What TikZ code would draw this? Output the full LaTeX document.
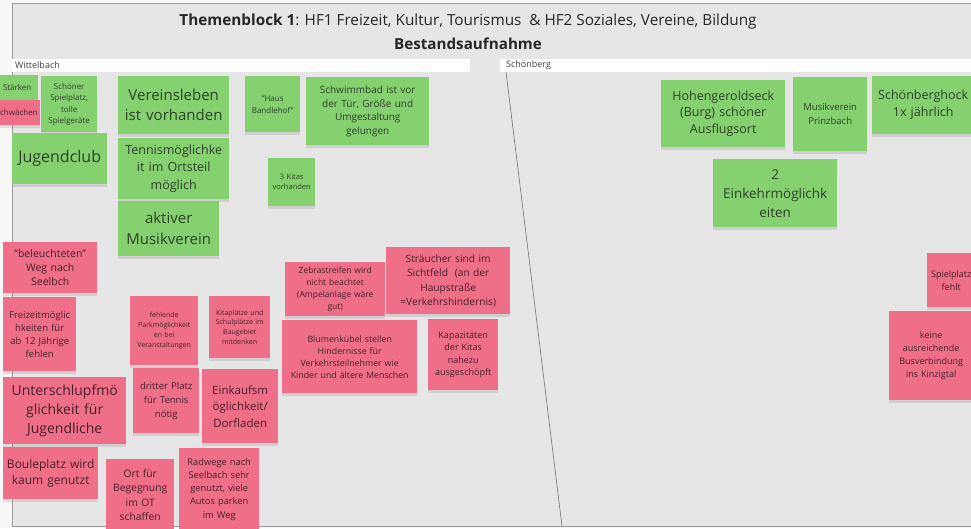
\documentclass[tikz,border=0pt]{standalone}
\usepackage{fontspec}
\setmainfont{Open Sans}
\usepackage{tikz}
\usetikzlibrary{shadows}
\definecolor{notegreen}{HTML}{86D16F}
\definecolor{notered}{HTML}{F06F88}
\definecolor{greentext}{HTML}{2E3F2A}
\definecolor{redtext}{HTML}{45202A}
\definecolor{boardgray}{HTML}{E6E6E6}
\definecolor{boardline}{HTML}{9A9A9A}
\newcommand{\fsz}[2]{\fontsize{#1}{#2}\selectfont}

\begin{document}
\begin{tikzpicture}[x=1pt,y=-1pt,
    note/.style={rectangle,inner xsep=0pt,inner ysep=0pt,align=center,anchor=north west,
      drop shadow={shadow xshift=0pt,shadow yshift=-2.5pt,opacity=.22}},
    sz/.style n args={2}{minimum width=#1pt,text width=#1pt,minimum height=#2pt},
    good/.style={note,fill=notegreen,text=greentext},
    bad/.style={note,fill=notered,text=redtext}]
  \useasboundingbox (0,0) rectangle (971,528);
  \clip (0,0) rectangle (971,528);
  \fill[white!97!black] (0,0) rectangle (971,528);
  \draw[boardline,fill=boardgray,line width=0.8pt] (12,3) rectangle (990,526);
  % header
  \node[font=\fsz{15.3}{18},text=black!85] (titel) at (468,22)
    {\textbf{Themenblock 1}: HF1 Freizeit, Kultur, Tourismus\ \ \& HF2 Soziales, Vereine, Bildung};
  \node[font=\bfseries\fsz{15.2}{18},text=black!85] (bestand) at (468,44) {Bestandsaufnahme};
  \foreach \nm/\xa/\xb/\xt/\ort in {witt/12/470/15/Wittelbach, schoen/500/975/506/Schönberg}{
    \fill[white] (\xa,59) rectangle (\xb,72);
    \node[anchor=west,inner sep=0pt,font=\fsz{9}{11},text=black!75] (\nm) at (\xt,65.5) {\ort};
  }
  \coordinate (divtop) at (506,72);
  \coordinate (divbot) at (562,526);
  \draw[black!55,line width=0.6pt] (divtop) -- (divbot);
  % Wittelbach, Staerken
  \node[good,sz={42}{25},font=\fsz{8}{11}] (staerken) at (-4,75) {Stärken};
  \node[bad,sz={47}{25},font=\fsz{8}{11}] (schwaechen) at (-7,100) {Schwächen};
  \node[good,sz={56}{56},font=\fsz{8}{11.5}] (spielplatz) at (41,76) {Schöner\\Spielplatz,\\tolle\\Spielgeräte};
  \node[good,sz={111}{58},font=\fsz{15}{20}] (vereinsleben) at (118,76) {Vereinsleben\\ist vorhanden};
  \node[good,sz={55}{56},font=\fsz{8}{12}] (bandlehof) at (245,76) {"Haus\\Bandlehof"};
  \node[good,sz={123}{68},font=\fsz{10}{13.5}] (schwimmbad) at (306,77) {Schwimmbad ist vor\\der Tür, Größe und\\Umgestaltung\\gelungen};
  \node[good,sz={95}{51},font=\fsz{16}{21}] (jugendclub) at (12,133) {Jugendclub};
  \node[good,sz={111}{61},font=\fsz{12.5}{17.5}] (tennis) at (118,138) {Tennismöglichke\\it im Ortsteil\\möglich};
  \node[good,sz={101}{55},font=\fsz{15}{21}] (musikverein) at (118,201) {aktiver\\Musikverein};
  \node[good,sz={47}{48},font=\fsz{7.5}{10}] (kitas) at (268,158) {3 Kitas\\vorhanden};
  % Wittelbach, Schwaechen
  \node[bad,sz={94}{51},font=\fsz{10.5}{14}] (beleuchtet) at (3,242) {"beleuchteten"\\Weg nach\\Seelbch};
  \node[bad,sz={73}{74},font=\fsz{9.5}{13}] (freizeit) at (3,297) {Freizeitmöglic\\hkeiten für\\ab 12 Jährige\\fehlen};
  \node[bad,sz={68}{69},font=\fsz{7}{10.3}] (parken) at (130,296) {fehlende\\Parkmöglichkeit\\en bei\\Veranstaltungen};
  \node[bad,sz={61}{62},font=\fsz{7}{9.8}] (kitaplatz) at (209,296) {Kitaplätze und\\Schulplätze im\\Baugebiet\\mitdenken};
  \node[bad,sz={100}{54},font=\fsz{8.5}{12}] (zebra) at (285,262) {Zebrastreifen wird\\nicht beachtet\\(Ampelanlage wäre\\gut)};
  \node[bad,sz={124}{67},font=\fsz{10.2}{14.5}] (straeucher) at (386,247) {Sträucher sind im\\Sichtfeld\ \ (an der\\Haupstraße\\=Verkehrshindernis)};
  \node[bad,sz={135}{73},font=\fsz{8.8}{12}] (blumen) at (282,320) {Blumenkübel stellen\\Hindernisse für\\Verkehrsteilnehmer wie\\Kinder und ältere Menschen};
  \node[bad,sz={70}{71},font=\fsz{9}{12.3}] (kapazitaet) at (428,319) {Kapazitäten\\der Kitas\\nahezu\\ausgeschöpft};
  \node[bad,sz={123}{67},font=\fsz{14}{18.7}] (unterschlupf) at (3,377) {Unterschlupfmö\\glichkeit für\\Jugendliche};
  \node[bad,sz={66}{65},font=\fsz{9.5}{14}] (tennisplatz) at (133,368) {dritter Platz\\für Tennis\\nötig};
  \node[bad,sz={76}{74},font=\fsz{11.5}{16.5}] (dorfladen) at (202,369) {Einkaufsm\\öglichkeit/\\Dorfladen};
  \node[bad,sz={95}{52},font=\fsz{12}{15.5}] (boule) at (3,447) {Bouleplatz wird\\kaum genutzt};
  \node[bad,sz={68}{72},font=\fsz{10.3}{14.6}] (begegnung) at (106,459) {Ort für\\Begegnung\\im OT\\schaffen};
  \node[bad,sz={80}{82},font=\fsz{9.3}{13.2}] (radwege) at (179,448) {Radwege nach\\Seelbach sehr\\genutzt, viele\\Autos parken\\im Weg};
  % Schoenberg
  \node[good,sz={124}{67},font=\fsz{12.5}{16.5}] (burg) at (661,80) {Hohengeroldseck\\(Burg) schöner\\Ausflugsort};
  \node[good,sz={74}{74},font=\fsz{9.5}{14}] (prinzbach) at (793,77) {Musikverein\\Prinzbach};
  \node[good,sz={102}{58},font=\fsz{12.5}{17}] (hock) at (872,76) {Schönberghock\\1x jährlich};
  \node[good,sz={124}{68},font=\fsz{13.5}{19}] (einkehr) at (713,159) {2\\Einkehrmöglichk\\eiten};
  \node[bad,sz={48}{54},font=\fsz{9}{13}] (spielplatzfehlt) at (927,253) {Spielplatz\\fehlt};
  \node[bad,sz={84}{89},font=\fsz{9}{12.8}] (bus) at (889,311) {keine\\ausreichende\\Busverbindung\\ins Kinzigtal};
\end{tikzpicture}
\end{document}
